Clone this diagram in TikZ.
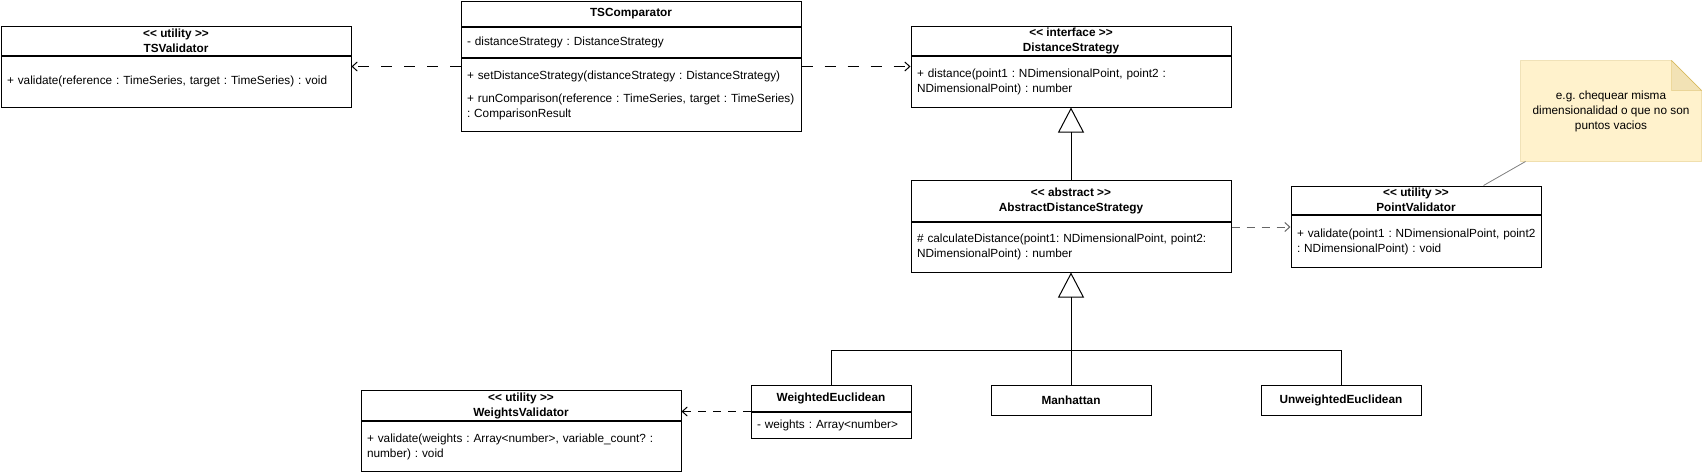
\documentclass[tikz,border=0pt]{standalone}
\usepackage{fontspec}
\setmainfont{Liberation Sans}
\usetikzlibrary{arrows.meta,calc,positioning,backgrounds}
\definecolor{notefill}{HTML}{FFF2CC}
\definecolor{noteedge}{HTML}{D6B656}
\definecolor{notefold}{HTML}{F2E2B5}
\newcommand{\stereo}[1]{<{}< #1 >{}>}
\frenchspacing

\begin{document}
\begin{tikzpicture}[x=1pt, y=-1pt, line width=1pt,
		font=\fontsize{11.8}{15}\selectfont,
		classhead/.style={draw, anchor=north west, align=center, inner sep=0pt,
			font=\fontsize{11.8}{15}\selectfont\bfseries},
		classbody/.style={draw, anchor=north west, align=left, inner xsep=6pt, inner ysep=0pt, text width=#1},
		dep/.style={dash pattern=on 11pt off 12pt, -{Straight Barb[length=5pt,width=9pt]}},
		depshort/.style={dash pattern=on 8pt off 7pt, -{Straight Barb[length=5pt,width=9pt]}},
		inherit/.style={-{Triangle[open,length=25pt,width=26pt]}},
		notebox/.style={anchor=north west, align=center, inner sep=0pt},
		noteline/.style={gray, line width=0.8pt}]
		
		\useasboundingbox (0,0) rectangle (1702,471);
		
		% ---------- TSValidator ----------
		\node[classhead, minimum width=350pt, minimum height=29pt] (tsv) at (0.5,25.5) {\stereo{utility}\\TSValidator};
		\node[classbody=338pt, minimum height=51pt] (tsvb) at (tsv.south west)
		{+ validate(reference : TimeSeries, target : TimeSeries) : void};
		
		% ---------- TSComparator ----------
		\node[classhead, minimum width=340pt, minimum height=25.5pt] (tsc) at (460.5,0.5) {TSComparator};
		\node[classbody=328pt, minimum height=30pt] (tsca) at (tsc.south west) {- distanceStrategy : DistanceStrategy};
		\node[classbody=328pt, minimum height=73pt] (tscm) at (tsca.south west)
		{+ setDistanceStrategy(distanceStrategy : DistanceStrategy)\\[8pt]
			+ runComparison(reference : TimeSeries, target : TimeSeries)\\: ComparisonResult};
		
		% ---------- DistanceStrategy + abstract base ----------
		\node[classhead, minimum width=320pt, minimum height=29pt] (ds) at (910.5,25.5) {\stereo{interface}\\DistanceStrategy};
		\node[classbody=308pt, minimum height=51pt] (dsb) at (ds.south west)
		{+ distance(point1 : NDimensionalPoint, point2 :\\NDimensionalPoint) : number};
		
		\node[classhead, minimum width=320pt, minimum height=40.5pt] (ads) at (910.5,180) {\stereo{abstract}\\AbstractDistanceStrategy};
		\node[classbody=308pt, minimum height=50pt] (adsb) at (ads.south west)
		{\# calculateDistance(point1: NDimensionalPoint, point2:\\NDimensionalPoint) : number};
		
		% ---------- PointValidator and its note ----------
		\node[classhead, minimum width=250pt, minimum height=28.5pt] (pv) at (1290.5,185.5) {\stereo{utility}\\PointValidator};
		\node[classbody=238pt, minimum height=52pt] (pvb) at (pv.south west)
		{\mbox{+ validate(point1 : NDimensionalPoint, point2}\\: NDimensionalPoint) : void};
		
		\node[notebox, minimum width=180pt, minimum height=100pt] (note) at (1520.5,60.5)
		{e.g. chequear misma\\dimensionalidad o que no son\\puntos vacios};
		\begin{scope}[on background layer]
			\draw[noteedge, fill=notefill] (note.north west) -- ($(note.north east)+(-30,0)$)
			-- ($(note.north east)+(0,30)$) -- (note.south east) -- (note.south west) -- cycle;
			\draw[noteedge, fill=notefold] ($(note.north east)+(-30,0)$) -- ++(0,30) -- ++(30,0) -- cycle;
		\end{scope}
		
		% ---------- Concrete strategies ----------
		\node[classhead, minimum width=160pt, minimum height=26pt] (we) at (750.5,384.5) {WeightedEuclidean};
		\node[classbody=148pt, minimum height=26pt] (web) at (we.south west) {- weights : Array<number>};
		\node[classhead, minimum width=160pt, minimum height=30pt] (man) at (990.5,384.5) {Manhattan};
		\node[classhead, minimum width=160pt, minimum height=30pt] (ue) at (1260.5,384.5) {UnweightedEuclidean};
		
		\node[classhead, minimum width=320pt, minimum height=30pt] (wv) at (360.5,390) {\stereo{utility}\\WeightsValidator};
		\node[classbody=308pt, minimum height=50pt] (wvb) at (wv.south west)
		{+ validate(weights : Array<number>, variable\_count? :\\number) : void};
		
		% ---------- Dependencies ----------
		\path (tsvb.north east) ++(0,11) coordinate (tsvIn);
		\draw[dep] (tscm.west |- tsvIn) -- (tsvIn);
		\path (dsb.north west) ++(0,11) coordinate (dsIn);
		\draw[dep] (tscm.east |- dsIn) -- (dsIn);
		\path (pvb.north west) ++(0,12) coordinate (pvIn);
		\draw[depshort, black!60] (adsb.east |- pvIn) -- (pvIn);
		\draw[depshort] (web.north west) -- (wv.east |- web.north west);
		\draw[noteline] ($(note.south west)+(5,0)$) -- ($(pv.north west)+(193,0)$);
		
		% ---------- Generalisation ----------
		\coordinate (forkY) at (0,350.5);
		\coordinate (fork) at (adsb.south |- forkY);
		\draw[inherit] (ads.north) -- (dsb.south);
		\draw[inherit] (man.north) -- (adsb.south);
		\draw (we.north) |- (fork) -| (ue.north);
		
	\end{tikzpicture}
\end{document}
